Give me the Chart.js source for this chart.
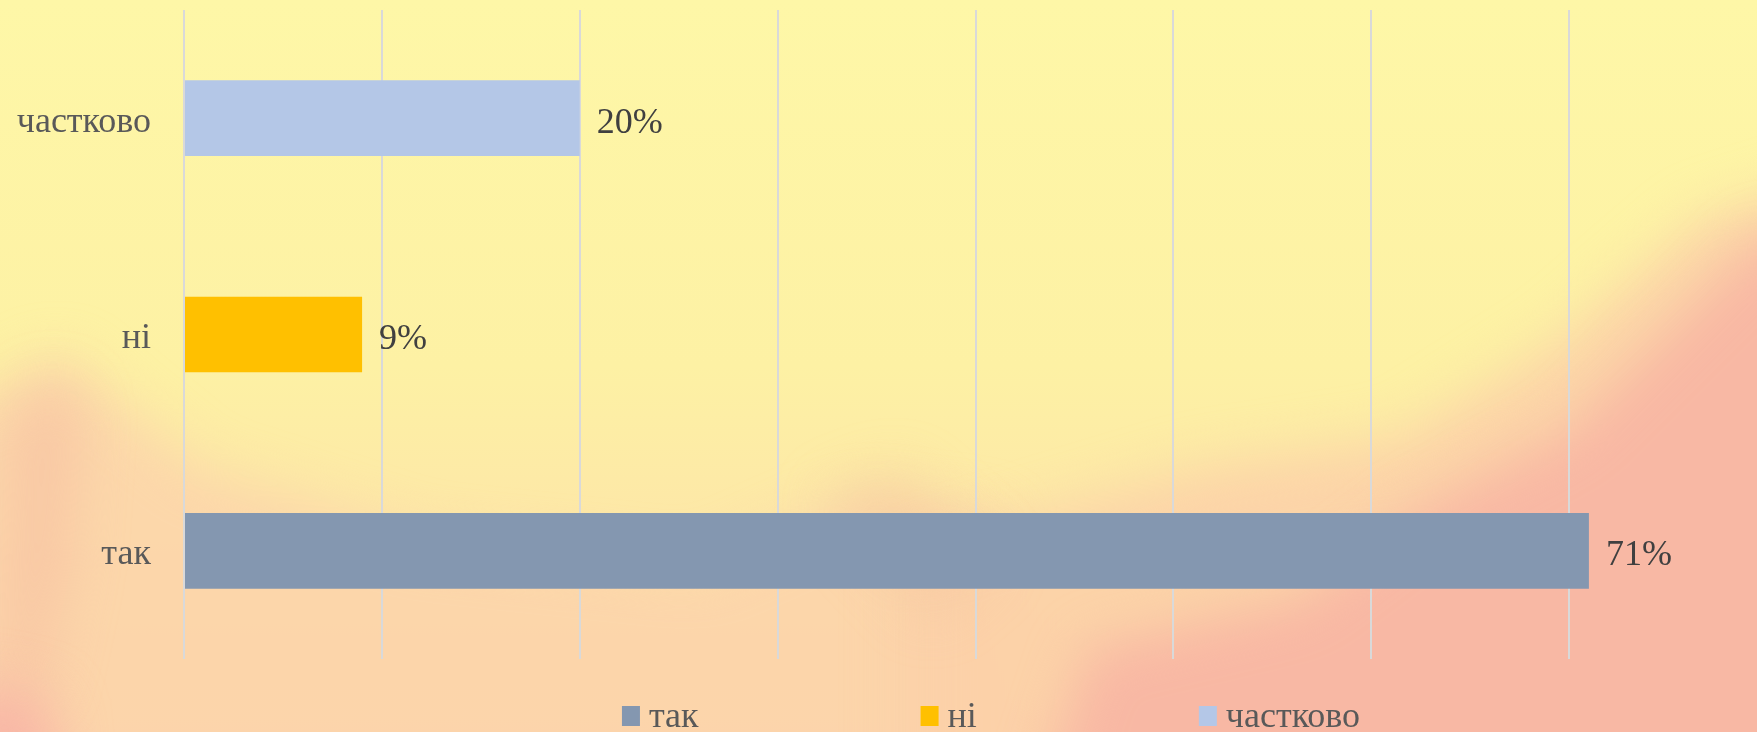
<!DOCTYPE html>
<html>
<head>
<meta charset="utf-8">
<script src="https://cdn.jsdelivr.net/npm/chart.js@4"></script>
<style>
  html, body { margin: 0; padding: 0; overflow: hidden; background: #FDF0A4; }
  #wrap { width: 1800px; height: 732px; position: relative; }
</style>
</head>
<body>
<div id="wrap"><canvas id="c" width="1800" height="732"></canvas></div>
<script>
// ---- data ----
const categories = ['так', 'ні', 'частково'];
const values = [0.71, 0.09, 0.20];
const barColors = ['#8497B0', '#FFC000', '#B4C7E7'];
const axisMin = 0;
const axisMax = 0.8;
const axisStep = 0.1;

const FONT = '"Liberation Serif", "Times New Roman", serif';

function paintBackground(ctx, w, h) {
  ctx.save();
  const g = ctx.createLinearGradient(0, 0, 0, h);
  g.addColorStop(0, '#FEF7A7');
  g.addColorStop(0.5, '#FDF1A4');
  g.addColorStop(0.72, '#FDE7A7');
  g.addColorStop(1, '#FCD8AB');
  ctx.fillStyle = g;
  ctx.fillRect(0, 0, w, h);
  ctx.filter = 'blur(26px)';
  const poly = (pts, color) => {
    ctx.fillStyle = color;
    ctx.beginPath();
    ctx.moveTo(pts[0][0], pts[0][1]);
    for (let i = 1; i < pts.length; i++) ctx.lineTo(pts[i][0], pts[i][1]);
    ctx.closePath();
    ctx.fill();
  };
  // left mountain (peach)
  poly([[-60,420],[30,370],[60,355],[200,470],[420,540],[700,570],[860,500],[1000,520],[1000,800],[-60,800]], 'rgba(252,212,170,0.85)');
  // peach band right
  poly([[900,560],[1200,470],[1400,440],[1560,340],[1700,220],[1860,170],[1860,800],[900,800]], 'rgba(252,208,168,0.85)');
  // salmon right area
  poly([[1420,510],[1570,430],[1690,310],[1760,240],[1860,230],[1860,800],[1040,800],[1090,650],[1300,600]], 'rgba(248,182,163,0.95)');
  // left reddish streak
  poly([[10,420],[50,380],[80,400],[70,560],[40,700],[0,700]], 'rgba(246,188,160,0.55)');
  // bottom-left corner pink
  poly([[-40,680],[50,700],[60,800],[-40,800]], 'rgba(247,175,165,0.8)');
  // middle orange streak
  poly([[820,500],[900,470],[1000,560],[930,620]], 'rgba(245,200,160,0.5)');
  ctx.restore();
}

const bgPlugin = {
  id: 'bg',
  beforeDraw(chart) {
    paintBackground(chart.ctx, chart.width, chart.height);
  }
};

const labelPlugin = {
  id: 'valueLabels',
  afterDatasetsDraw(chart) {
    const ctx = chart.ctx;
    const meta = chart.getDatasetMeta(0);
    ctx.save();
    ctx.font = '36px ' + FONT;
    ctx.fillStyle = '#404040';
    ctx.textAlign = 'left';
    ctx.textBaseline = 'middle';
    meta.data.forEach((el, i) => {
      const v = chart.data.datasets[0].data[i];
      ctx.fillText(Math.round(v * 100) + '%', el.x + 17, el.y + 5);
    });
    ctx.restore();
  }
};

const legendPlugin = {
  id: 'customLegend',
  afterDraw(chart) {
    const ctx = chart.ctx;
    ctx.save();
    ctx.font = '36px ' + FONT;
    const gap = 27, spacing = 222, box = 19;
    const widths = categories.map(t => gap + ctx.measureText(t).width);
    const total = widths.reduce((a, b) => a + b, 0) + spacing * (categories.length - 1);
    let x = 991 - total / 2;
    const baseY = 727;
    categories.forEach((t, i) => {
      ctx.fillStyle = barColors[i];
      ctx.fillRect(x, 706, box - 1, box + 1);
      ctx.fillStyle = '#595959';
      ctx.textAlign = 'left';
      ctx.textBaseline = 'alphabetic';
      ctx.fillText(t, x + gap, baseY);
      x += widths[i] + spacing;
    });
    ctx.restore();
  }
};

new Chart(document.getElementById('c'), {
  type: 'bar',
  data: {
    labels: categories,
    datasets: [{
      data: values,
      backgroundColor: barColors,
      borderWidth: 0,
      barPercentage: 0.35,
      categoryPercentage: 1.0
    }]
  },
  options: {
    indexAxis: 'y',
    responsive: false,
    animation: false,
    layout: { padding: { left: 0, top: 10, right: 33, bottom: 73 } },
    plugins: {
      legend: { display: false },
      tooltip: { enabled: false }
    },
    scales: {
      x: {
        min: axisMin,
        max: axisMax,
        ticks: { display: false, stepSize: axisStep },
        grid: { color: '#D9D9D9', lineWidth: 2, drawTicks: false },
        border: { display: false },
        afterFit(scale) { scale.height = 0; scale.paddingLeft = 0; scale.paddingRight = 0; }
      },
      y: {
        reverse: true,
        ticks: { color: '#595959', font: { family: FONT, size: 36 }, padding: 33, labelOffset: 4 },
        grid: { display: false, drawTicks: false },
        border: { display: false },
        afterFit(scale) { scale.width = 184; scale.paddingTop = 0; scale.paddingBottom = 0; }
      }
    }
  },
  plugins: [bgPlugin, labelPlugin, legendPlugin]
});
</script>
</body>
</html>
